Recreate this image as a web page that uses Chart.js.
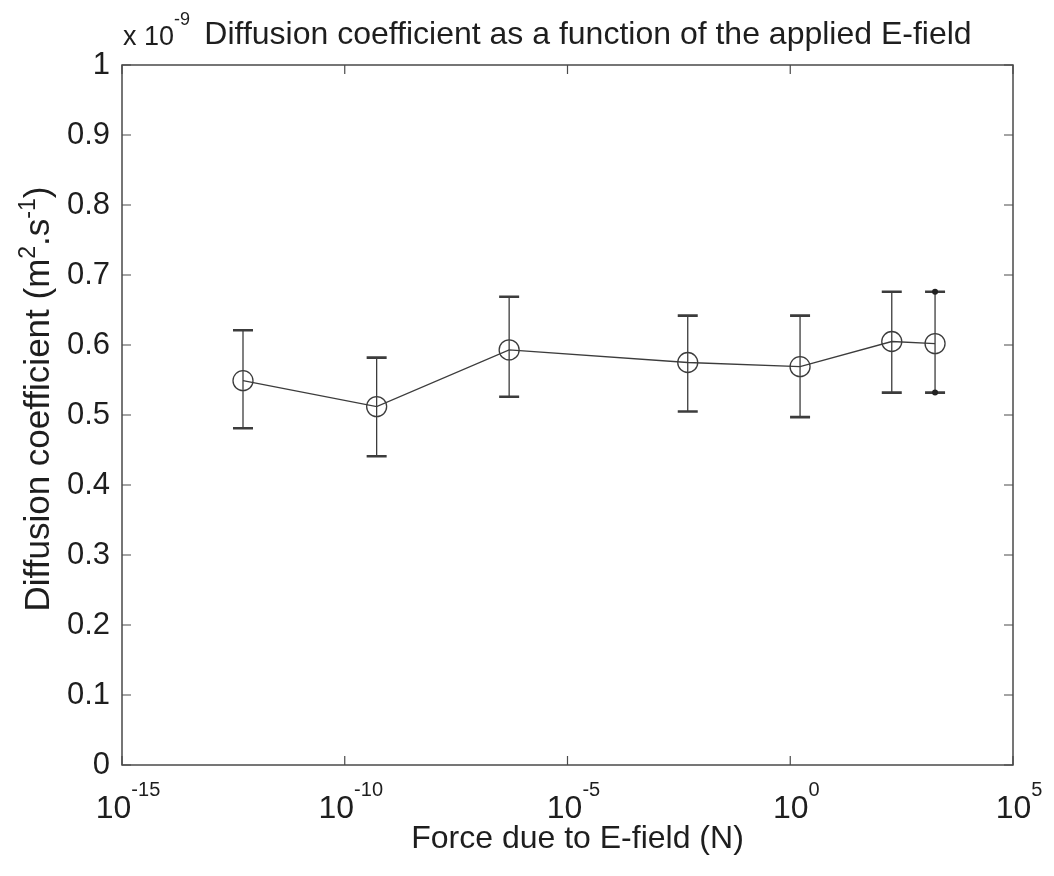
<!DOCTYPE html>
<html><head><meta charset="utf-8">
<script src="https://cdn.jsdelivr.net/npm/chart.js@4/dist/chart.umd.min.js"></script>
<style>html,body{margin:0;padding:0;background:#fff;}canvas{display:block;}</style>
</head><body>
<canvas id="c" width="1054" height="876"></canvas>
<script>
// ---- data (diffusion coefficient in units of 1e-9 m^2/s) ----
const forceN     = [5.2e-13, 5.2e-10, 4.9e-7, 5.0e-3, 1.66, 190, 1780];
const diffusion  = [0.549, 0.512, 0.593, 0.575, 0.569, 0.605, 0.602];
const errUpper   = [0.621, 0.582, 0.669, 0.642, 0.642, 0.676, 0.676];
const errLower   = [0.481, 0.441, 0.526, 0.505, 0.497, 0.532, 0.532];
const capDotsX   = [1780, 1780];
const capDotsY   = [0.676, 0.532];
const xTickExponents = ['-15', '-10', '-5', '0', '5'];
const xTickValues    = [1e-15, 1e-10, 1e-5, 1, 1e5];
const yTickValues    = [0, 0.1, 0.2, 0.3, 0.4, 0.5, 0.6, 0.7, 0.8, 0.9, 1];
const yTickLabels    = ['0', '0.1', '0.2', '0.3', '0.4', '0.5', '0.6', '0.7', '0.8', '0.9', '1'];
const titleText  = 'Diffusion coefficient as a function of the applied E-field';
const xTitleText = 'Force due to E-field (N)';
const yTitleParts = [['Diffusion coefficient (m', 0], ['2', 1], ['.s', 0], ['-1', 1], [')', 0]];
const multiplierParts = [['x 10', 0], ['-9', 1]];

const FONT = '"Liberation Sans", Arial, Helvetica, sans-serif';
const INK = '#1e1e1e';
const LINE = '#3c3c3c';

function drawParts(ctx, parts, x, baseline, bigSize, smallSize, raise) {
  let cx = x;
  for (const [t, s] of parts) {
    ctx.font = (s ? smallSize : bigSize) + 'px ' + FONT;
    ctx.fillText(t, cx, s ? baseline - raise : baseline);
    cx += ctx.measureText(t).width;
  }
  return cx - x;
}
function partsWidth(ctx, parts, bigSize, smallSize) {
  let w = 0;
  for (const [t, s] of parts) {
    ctx.font = (s ? smallSize : bigSize) + 'px ' + FONT;
    w += ctx.measureText(t).width;
  }
  return w;
}

const decor = {
  id: 'decor',
  beforeDatasetsDraw(chart) {
    const {ctx, scales: {x, y}} = chart;
    ctx.save();
    ctx.strokeStyle = LINE;
    for (let i = 0; i < forceN.length; i++) {
      const px = x.getPixelForValue(forceN[i]);
      const pt = y.getPixelForValue(errUpper[i]);
      const pb = y.getPixelForValue(errLower[i]);
      ctx.lineWidth = 1.3;
      ctx.beginPath(); ctx.moveTo(px, pt); ctx.lineTo(px, pb); ctx.stroke();
      ctx.lineWidth = 2.6;
      ctx.beginPath();
      ctx.moveTo(px - 10, pt); ctx.lineTo(px + 10, pt);
      ctx.moveTo(px - 10, pb); ctx.lineTo(px + 10, pb);
      ctx.stroke();
    }
    ctx.restore();
  },
  afterDraw(chart) {
    const {ctx, chartArea: a, scales: {x, y}} = chart;
    ctx.save();
    ctx.strokeStyle = '#4a4a4a';
    ctx.lineWidth = 1.5;
    ctx.strokeRect(a.left, a.top, a.right - a.left, a.bottom - a.top);
    const TL = 9;
    ctx.lineWidth = 1.2;
    ctx.beginPath();
    xTickValues.forEach(v => {
      const px = x.getPixelForValue(v);
      ctx.moveTo(px, a.bottom); ctx.lineTo(px, a.bottom - TL);
      ctx.moveTo(px, a.top); ctx.lineTo(px, a.top + TL);
    });
    yTickValues.forEach(v => {
      const py = y.getPixelForValue(v);
      ctx.moveTo(a.left, py); ctx.lineTo(a.left + TL, py);
      ctx.moveTo(a.right, py); ctx.lineTo(a.right - TL, py);
    });
    ctx.stroke();

    ctx.fillStyle = INK;
    ctx.textBaseline = 'alphabetic';
    ctx.textAlign = 'left';
    xTickValues.forEach((v, i) => {
      const parts = [['10', 0], [xTickExponents[i], 1]];
      const w = partsWidth(ctx, parts, 32, 20);
      const px = x.getPixelForValue(v);
      drawParts(ctx, parts, px - w / 2 + 6, a.bottom + 53, 32, 20, 22);
    });
    ctx.font = '32px ' + FONT;
    ctx.textAlign = 'center';
    ctx.fillText(xTitleText, (a.left + a.right) / 2 + 10, a.bottom + 83);
    ctx.fillText(titleText, 588, 44);
    ctx.textAlign = 'left';
    drawParts(ctx, multiplierParts, 123, 45, 27, 18, 20);
    ctx.translate(49, 399);
    ctx.rotate(-Math.PI / 2);
    const wy = partsWidth(ctx, yTitleParts, 35, 23);
    drawParts(ctx, yTitleParts, -wy / 2, 0, 35, 23, 14);
    ctx.restore();
  }
};

new Chart(document.getElementById('c'), {
  type: 'line',
  data: {
    datasets: [
      {
        label: 'D',
        data: forceN.map((f, i) => ({x: f, y: diffusion[i]})),
        borderColor: LINE,
        borderWidth: 1.3,
        pointRadius: 10,
        pointBorderWidth: 1.3,
        pointBorderColor: LINE,
        pointBackgroundColor: 'rgba(0,0,0,0)',
        fill: false,
        tension: 0
      },
      {
        label: 'caps',
        data: capDotsX.map((f, i) => ({x: f, y: capDotsY[i]})),
        showLine: false,
        pointRadius: 3,
        pointBorderWidth: 0,
        pointBackgroundColor: '#222'
      }
    ]
  },
  options: {
    responsive: false,
    animation: false,
    layout: {padding: {left: 0, top: 65, right: 41, bottom: 0}},
    plugins: {legend: {display: false}, tooltip: {enabled: false}, title: {display: false}},
    scales: {
      x: {
        type: 'logarithmic',
        min: 1e-15, max: 1e5,
        afterBuildTicks: s => { s.ticks = xTickValues.map(v => ({value: v})); },
        afterFit: s => { s.height = 111; },
        ticks: {display: false},
        grid: {display: false},
        border: {display: false}
      },
      y: {
        min: 0, max: 1,
        afterBuildTicks: s => { s.ticks = yTickValues.map(v => ({value: v})); },
        afterFit: s => { s.width = 122; },
        ticks: {
          callback: (v, i) => yTickLabels[i],
          font: {family: FONT, size: 31},
          color: INK,
          padding: 4
        },
        grid: {display: false, drawTicks: true, tickLength: 8},
        border: {display: false}
      }
    }
  },
  plugins: [decor]
});
</script>
</body></html>
